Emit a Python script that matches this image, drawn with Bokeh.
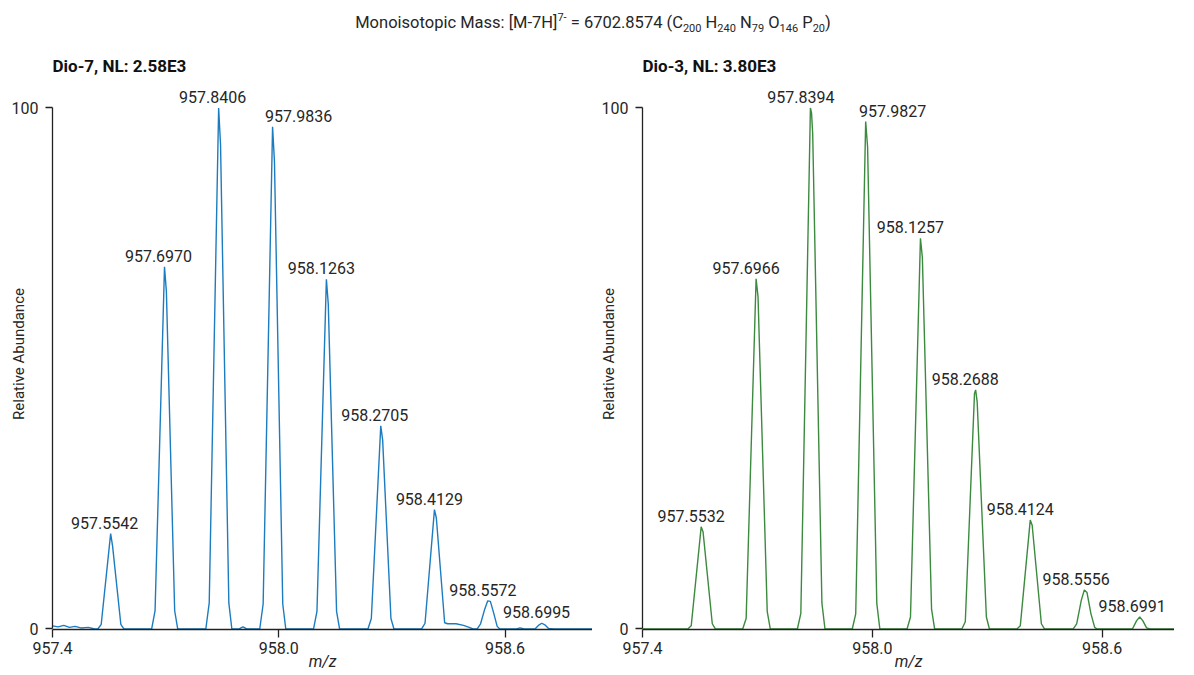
from bokeh.plotting import figure
from bokeh.models import ColumnDataSource, FixedTicker, PrintfTickFormatter, Range1d, Div
from bokeh.layouts import column, row
from bokeh.embed import file_html
from bokeh.resources import INLINE
from bokeh.core.properties import value

FONT = "Roboto"

# ---------------- data ----------------
left_title = "Dio-7, NL: 2.58E3"
right_title = "Dio-3, NL: 3.80E3"

left_mz = [957.385, 957.400, 957.415, 957.430, 957.445, 957.460, 957.475, 957.495, 957.512,
           957.5202, 957.5292, 957.5542, 957.5592, 957.5812, 957.5892,
           957.6630, 957.6720, 957.6970, 957.7020, 957.7240, 957.7320,
           957.8066, 957.8156, 957.8406, 957.8456, 957.8676, 957.8756,
           957.8950, 957.9050, 957.9150,
           957.9496, 957.9586, 957.9836, 957.9886, 958.0106, 958.0186,
           958.0923, 958.1013, 958.1263, 958.1313, 958.1533, 958.1613,
           958.2365, 958.2455, 958.2705, 958.2755, 958.2975, 958.3055,
           958.3789, 958.3879, 958.4129, 958.4179, 958.4399, 958.4479, 958.4700, 958.4900, 958.5050, 958.5150,
           958.5262, 958.5352, 958.5462, 958.5542, 958.5612, 958.5702, 958.5792, 958.5862,
           958.6300, 958.6400, 958.6500,
           958.6795, 958.6905, 958.6975, 958.7055, 958.7155, 958.7300, 958.8600]
left_int = [0.5, 0.6, 0.4, 0.7, 0.3, 0.5, 0.2, 0.3, 0.0,
            0.0, 0.9, 18.3, 16.0, 0.9, 0.0,
            0.0, 3.5, 69.5, 64.8, 3.5, 0.0,
            0.0, 5.0, 100.0, 93.0, 5.0, 0.0,
            0.0, 0.4, 0.0,
            0.0, 4.8, 96.4, 89.7, 4.8, 0.0,
            0.0, 3.4, 67.1, 62.4, 3.4, 0.0,
            0.0, 2.0, 39.0, 36.3, 2.0, 0.0,
            0.0, 1.1, 22.9, 21.3, 1.2, 1.0, 1.0, 0.7, 0.3, 0.0,
            0.0, 1.0, 3.8, 5.4, 5.3, 3.0, 0.5, 0.0,
            0.0, 0.2, 0.0,
            0.0, 0.8, 1.1, 0.8, 0.1, 0.0, 0.0]

left_peak_mz = [957.5542, 957.6970, 957.8406, 957.9836, 958.1263, 958.2705, 958.4129, 958.5572, 958.6995]
left_peak_int = [18.3, 69.5, 100.0, 96.4, 67.1, 39.0, 22.9, 5.4, 1.1]

right_mz = [957.380, 957.5182, 957.5272, 957.5532, 957.5582, 957.5822, 957.5902,
            957.6616, 957.6706, 957.6966, 957.7016, 957.7256, 957.7336,
            957.8044, 957.8134, 957.8384, 957.8414, 957.8444, 957.8684, 957.8764,
            957.9477, 957.9567, 957.9827, 957.9877, 958.0117, 958.0197,
            958.0907, 958.0997, 958.1257, 958.1307, 958.1547, 958.1627,
            958.2338, 958.2428, 958.2668, 958.2698, 958.2738, 958.2978, 958.3058,
            958.3774, 958.3864, 958.4124, 958.4174, 958.4414, 958.4494,
            958.5246, 958.5336, 958.5456, 958.5536, 958.5606, 958.5706, 958.5806, 958.5866,
            958.6791, 958.6901, 958.6981, 958.7061, 958.7161, 958.7250,
            958.8050, 958.8300, 958.8500]
right_int = [0.0, 0.0, 0.6, 19.6, 18.6, 1.0, 0.0,
             0.0, 2.0, 67.2, 63.8, 3.4, 0.0,
             0.0, 3.0, 100.0, 99.0, 95.0, 5.0, 0.0,
             0.0, 2.9, 97.4, 92.5, 4.9, 0.0,
             0.0, 2.3, 75.0, 71.3, 3.8, 0.0,
             0.0, 1.4, 45.2, 45.9, 43.6, 2.3, 0.0,
             0.0, 0.6, 20.9, 19.9, 1.0, 0.0,
             0.0, 1.0, 5.5, 7.5, 7.0, 3.0, 0.3, 0.0,
             0.0, 1.6, 2.3, 1.6, 0.2, 0.0,
             0.0, 0.8, 2.5]

right_peak_mz = [957.5532, 957.6966, 957.8394, 957.9827, 958.1257, 958.2688, 958.4124, 958.5556, 958.6991]
right_peak_int = [19.6, 67.2, 100.0, 97.4, 75.0, 45.9, 20.9, 7.5, 2.3]

x_ticks = [957.4, 958.0, 958.6]
y_ticks = [0, 100]

# label placement (screen px), layout only
left_label_dx = [-6, -6, -6, 26, -5, -6, -5, -6, -6]
right_label_dx = [-10, -10, -10, 27, -10, -10, -10, -9, -8]

LEFT_COLOR = "#1c7cbf"
RIGHT_COLOR = "#3b8a3e"
TEXT = "#262626"


def make_panel(title, mz, inten, pk_mz, pk_int, dx, color, x_end, frame_w):
    p = figure(frame_width=frame_w, frame_height=551,
               x_range=Range1d(957.4, x_end), y_range=Range1d(-0.1, 105.66),
               output_backend="svg", toolbar_location=None, title=title,
               min_border_left=0, min_border_right=0,
               min_border_top=28, min_border_bottom=40)
    p.title.text_font = FONT
    p.title.text_font_size = "17px"
    p.title.text_font_style = "bold"
    p.title.text_color = "#111111"
    p.title.align = "left"
    p.title.standoff = 5
    p.grid.visible = False
    p.outline_line_color = None
    p.background_fill_color = "white"
    p.border_fill_color = "white"

    p.line(x=mz, y=inten, line_color=color, line_width=1.4)

    src = ColumnDataSource(dict(x=pk_mz, y=pk_int,
                                label=[f"{m:.4f}" for m in pk_mz], dx=dx))
    p.text(x="x", y="y", text="label", source=src, x_offset="dx", y_offset=-11,
           text_font=value(FONT), text_font_size="16px", text_color=TEXT,
           text_align="center", text_baseline="alphabetic")

    xa = p.xaxis[0]
    xa.ticker = FixedTicker(ticks=x_ticks, minor_ticks=[])
    xa.formatter = PrintfTickFormatter(format="%.1f")
    xa.axis_line_color = "#222222"
    xa.axis_line_width = 1.3
    xa.major_tick_line_color = "#222222"
    xa.major_tick_line_width = 1.3
    xa.major_tick_out = 8
    xa.major_tick_in = 0
    xa.minor_tick_out = 0
    xa.minor_tick_in = 0
    xa.major_label_standoff = 4
    xa.major_label_text_font = FONT
    xa.major_label_text_font_size = "16px"
    xa.major_label_text_color = TEXT
    xa.axis_label = "m/z"
    xa.axis_label_text_font = FONT
    xa.axis_label_text_font_size = "16px"
    xa.axis_label_text_font_style = "italic"
    xa.axis_label_text_color = TEXT
    xa.axis_label_standoff = -5

    ya = p.yaxis[0]
    ya.ticker = FixedTicker(ticks=y_ticks, minor_ticks=[])
    ya.formatter = PrintfTickFormatter(format="%d")
    ya.bounds = (0, 100)
    ya.axis_line_color = "#222222"
    ya.axis_line_width = 1.3
    ya.major_tick_line_color = "#222222"
    ya.major_tick_line_width = 1.3
    ya.major_tick_out = 7
    ya.major_tick_in = 0
    ya.minor_tick_out = 0
    ya.minor_tick_in = 0
    ya.major_label_standoff = 7
    ya.major_label_text_font = FONT
    ya.major_label_text_font_size = "16px"
    ya.major_label_text_color = TEXT
    ya.axis_label = "Relative Abundance"
    ya.axis_label_text_font = FONT
    ya.axis_label_text_font_size = "15px"
    ya.axis_label_text_font_style = "normal"
    ya.axis_label_text_color = TEXT
    ya.axis_label_standoff = -19
    return p


p1 = make_panel(left_title, left_mz, left_int, left_peak_mz, left_peak_int, left_label_dx,
                LEFT_COLOR, 958.832, 540)
p1.margin = (0, 0, 0, 6)
p2 = make_panel(right_title, right_mz, right_int, right_peak_mz, right_peak_int, right_label_dx,
                RIGHT_COLOR, 958.789, 532)
p2.margin = (0, 0, 0, 4)

sub = "font-size:11px"
super_title = ("Monoisotopic Mass: [M-7H]<sup style='%s'>7-</sup> = 6702.8574 "
               "(C<sub style='%s'>200</sub> H<sub style='%s'>240</sub> "
               "N<sub style='%s'>79</sub> O<sub style='%s'>146</sub> "
               "P<sub style='%s'>20</sub>)") % ((sub,) * 6)
div = Div(text=super_title, width=1176, height=40,
          styles={"font-family": FONT, "font-size": "16.5px", "color": TEXT,
                  "text-align": "center", "padding-top": "5px", "box-sizing": "border-box"})

layout = column(div, row(p1, p2, spacing=0), spacing=0)

open("out.html", "w").write(file_html(layout, INLINE))
